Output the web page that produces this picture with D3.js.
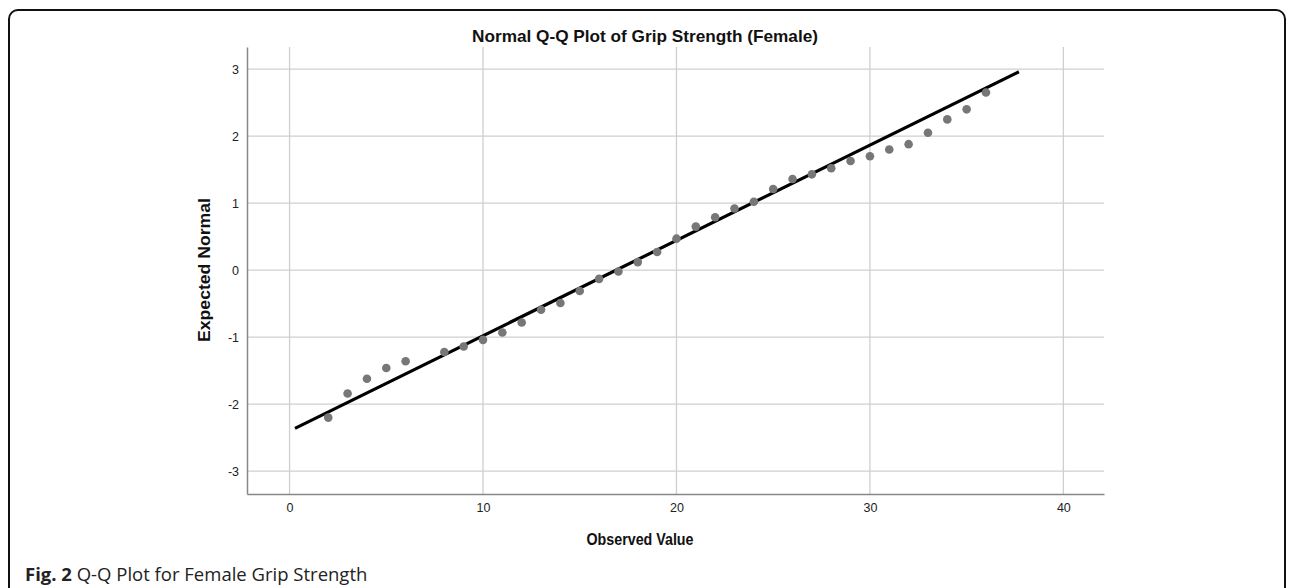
<!DOCTYPE html>
<html>
<head>
<meta charset="utf-8">
<script src="https://cdn.jsdelivr.net/npm/d3@7"></script>
<style>
  body { margin: 0; background: #fff; }
  svg { display: block; }
</style>
</head>
<body>
<script>
// observed grip strength values and their expected normal quantiles
var observed = [2, 3, 4, 5, 6, 8, 9, 10, 11, 12, 13, 14, 15, 16, 17, 18, 19, 20, 21,
  22, 23, 24, 25, 26, 27, 28, 29, 30, 31, 32, 33, 34, 35, 36];
var expected = [-2.20, -1.84, -1.62, -1.46, -1.36, -1.22, -1.14, -1.04, -0.93, -0.78,
  -0.59, -0.49, -0.31, -0.13, -0.02, 0.12, 0.27, 0.47, 0.65, 0.79, 0.92, 1.02, 1.21,
  1.36, 1.43, 1.52, 1.63, 1.70, 1.80, 1.88, 2.05, 2.25, 2.40, 2.65];
var refLineX = [0.28, 37.7];
var refLineY = [-2.36, 2.96];
var xTicks = [0, 10, 20, 30, 40];
var yTicks = [-3, -2, -1, 0, 1, 2, 3];

var W = 1292, H = 588;
var font = 'Liberation Sans, Arial, sans-serif';
var svg = d3.select('body').append('svg').attr('width', W).attr('height', H);

// figure frame with rounded corners
svg.append('rect')
  .attr('x', 9).attr('y', 10).attr('width', 1276).attr('height', 620)
  .attr('rx', 9).attr('ry', 9)
  .style('fill', 'none').style('stroke', '#111').style('stroke-width', 2);

var x = d3.scaleLinear().domain([-2.2, 42.1]).range([247, 1104]);
var y = d3.scaleLinear().domain([-3.34, 3.33]).range([494, 47]);

// grid
svg.append('g').selectAll('line').data(xTicks).enter().append('line')
  .attr('x1', function(d) { return x(d); }).attr('x2', function(d) { return x(d); })
  .attr('y1', y.range()[1]).attr('y2', y.range()[0])
  .style('stroke', '#cfcfcf').style('stroke-width', 1.3);
svg.append('g').selectAll('line').data(yTicks).enter().append('line')
  .attr('x1', x.range()[0]).attr('x2', x.range()[1])
  .attr('y1', function(d) { return y(d); }).attr('y2', function(d) { return y(d); })
  .style('stroke', '#cfcfcf').style('stroke-width', 1.3);

// axes
var xAxis = svg.append('g').attr('transform', 'translate(0,' + y.range()[0] + ')')
  .call(d3.axisBottom(x).tickValues(xTicks).tickSize(0).tickPadding(9));
var yAxis = svg.append('g').attr('transform', 'translate(' + x.range()[0] + ',0)')
  .call(d3.axisLeft(y).tickValues(yTicks).tickSize(0).tickPadding(8)
    .tickFormat(function(d) { return d; }));
[xAxis, yAxis].forEach(function(a) {
  a.select('.domain').attr('stroke', '#888').style('stroke-width', 1.5);
  a.selectAll('text').attr('fill', '#222')
    .style('font-family', font).style('font-size', '12.5px');
});

// reference line
svg.append('line')
  .attr('x1', x(refLineX[0])).attr('y1', y(refLineY[0]))
  .attr('x2', x(refLineX[1])).attr('y2', y(refLineY[1]))
  .style('stroke', '#000').style('stroke-width', 3.2);

// points
svg.append('g').selectAll('circle').data(observed).enter().append('circle')
  .attr('cx', function(d) { return x(d); })
  .attr('cy', function(d, i) { return y(expected[i]); })
  .attr('r', 4.3)
  .style('fill', '#777');

// titles
svg.append('text').attr('x', 645).attr('y', 42).attr('text-anchor', 'middle')
  .attr('textLength', 346).attr('lengthAdjust', 'spacingAndGlyphs')
  .style('font-family', font).style('font-size', '17px')
  .style('font-weight', 'bold').style('fill', '#111')
  .text('Normal Q-Q Plot of Grip Strength (Female)');
svg.append('text').attr('x', 640).attr('y', 545).attr('text-anchor', 'middle')
  .attr('textLength', 107).attr('lengthAdjust', 'spacingAndGlyphs')
  .style('font-family', font).style('font-size', '16px')
  .style('font-weight', 'bold').style('fill', '#111')
  .text('Observed Value');
svg.append('text').attr('transform', 'translate(210,270) rotate(-90)')
  .attr('text-anchor', 'middle')
  .attr('textLength', 144).attr('lengthAdjust', 'spacingAndGlyphs')
  .style('font-family', font).style('font-size', '16px')
  .style('font-weight', 'bold').style('fill', '#111')
  .text('Expected Normal');

// caption
var cap = svg.append('text').attr('x', 25).attr('y', 581)
  .style('font-family', 'Open Sans, sans-serif').style('font-size', '18.5px').style('fill', '#222');
cap.append('tspan').style('font-weight', 'bold').text('Fig. 2');
cap.append('tspan').text(' Q-Q Plot for Female Grip Strength');
</script>
</body>
</html>
